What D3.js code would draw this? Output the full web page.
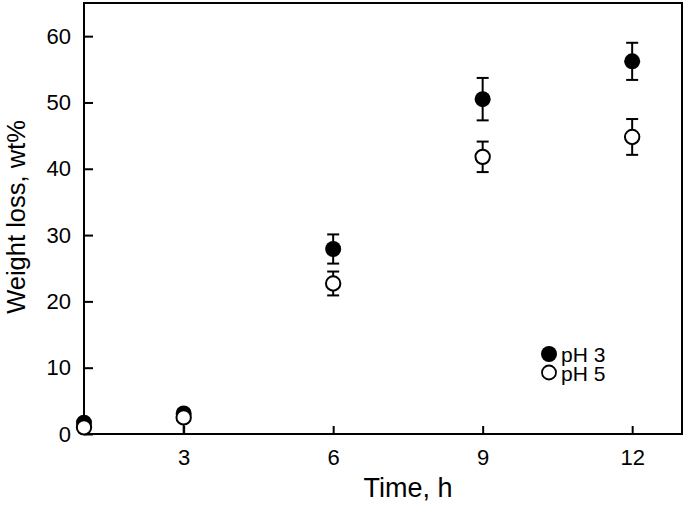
<!DOCTYPE html>
<html><head><meta charset="utf-8">
<script src="https://cdn.jsdelivr.net/npm/d3@7"></script>
<style>body{margin:0;background:#fff}svg{display:block}text{font-family:"Liberation Sans",Arial,sans-serif;fill:#000}</style>
</head><body><svg id="c" width="685" height="506"></svg>
<script>
const time = [1, 3, 6, 9, 12];
const ph3 = [1.7, 3.1, 27.9, 50.5, 56.2];
const ph3ErrLow = [0.3, 0.3, 2.2, 3.2, 2.8];
const ph3ErrHigh = [0.3, 0.3, 2.2, 3.2, 2.8];
const ph5 = [1.0, 2.5, 22.7, 41.8, 44.8];
const ph5ErrLow = [0.3, 2.5, 1.8, 2.3, 2.7];
const ph5ErrHigh = [0.3, 1.2, 1.8, 2.3, 2.7];
const xTicks = [3, 6, 9, 12];
const yTicks = [0, 10, 20, 30, 40, 50, 60];
const seriesNames = ["pH 3", "pH 5"];

const svg = d3.select("#c");
const L = 84, R = 682, T = 3, B = 434;
const x = d3.scaleLinear().domain([1, 13]).range([L, R]);
const y = d3.scaleLinear().domain([0, 65]).range([B, T]);

const g = svg.append("g");
g.append("rect").attr("x", L).attr("y", T).attr("width", R - L).attr("height", B - T)
  .attr("fill", "none").attr("stroke", "#000").attr("stroke-width", 2);

const xAxis = g.append("g").attr("transform", `translate(0,${B})`)
  .call(d3.axisBottom(x).tickValues(xTicks).tickSize(-8).tickPadding(15).tickFormat(d3.format("d")));
const yAxis = g.append("g").attr("transform", `translate(${L},0)`)
  .call(d3.axisLeft(y).tickValues(yTicks).tickSize(-9).tickPadding(13).tickFormat(d3.format("d")));
[xAxis, yAxis].forEach(a => {
  a.select(".domain").remove();
  a.selectAll(".tick line").attr("stroke", "#000").attr("stroke-width", 2);
  a.selectAll(".tick text").attr("font-size", 22).attr("font-family", "Liberation Sans, Arial, sans-serif");
});

svg.append("text").attr("x", 408).attr("y", 497).attr("text-anchor", "middle")
  .attr("font-size", 27).text("Time, h");
svg.append("text").attr("transform", `translate(25,217) rotate(-90)`)
  .attr("text-anchor", "middle").attr("font-size", 25.5).text("Weight loss, wt%");

const series = [
  {vals: ph3, lo: ph3ErrLow, hi: ph3ErrHigh, filled: true},
  {vals: ph5, lo: ph5ErrLow, hi: ph5ErrHigh, filled: false}
];
const bars = g.append("g"), marks = g.append("g");
series.forEach(sr => {
  time.forEach((t, i) => {
    const cx = x(t), v = sr.vals[i];
    const lo = Math.max(0, v - sr.lo[i]), hi = v + sr.hi[i];
    bars.append("line").attr("x1", cx).attr("x2", cx).attr("y1", y(lo)).attr("y2", y(hi))
      .attr("stroke", "#000").attr("stroke-width", 2);
    [lo, hi].forEach(w => {
      if (w > 0) bars.append("line").attr("x1", cx - 6).attr("x2", cx + 6).attr("y1", y(w)).attr("y2", y(w))
        .attr("stroke", "#000").attr("stroke-width", 2);
    });
  });
  time.forEach((t, i) => {
    marks.append("circle").attr("cx", x(t)).attr("cy", y(sr.vals[i]))
      .attr("r", sr.filled ? 8 : 7.2)
      .attr("fill", sr.filled ? "#000" : "#fff").attr("stroke", "#000").attr("stroke-width", sr.filled ? 0 : 2);
  });
});

const lg = svg.append("g");
seriesNames.forEach((n, i) => {
  const yy = 354 + i * 18.5;
  lg.append("circle").attr("cx", 549).attr("cy", yy).attr("r", i === 0 ? 8 : 7)
    .attr("fill", i === 0 ? "#000" : "#fff").attr("stroke", "#000").attr("stroke-width", i === 0 ? 0 : 1.8);
  lg.append("text").attr("x", 561).attr("y", yy + 8).attr("font-size", 21).text(n);
});
</script></body></html>
